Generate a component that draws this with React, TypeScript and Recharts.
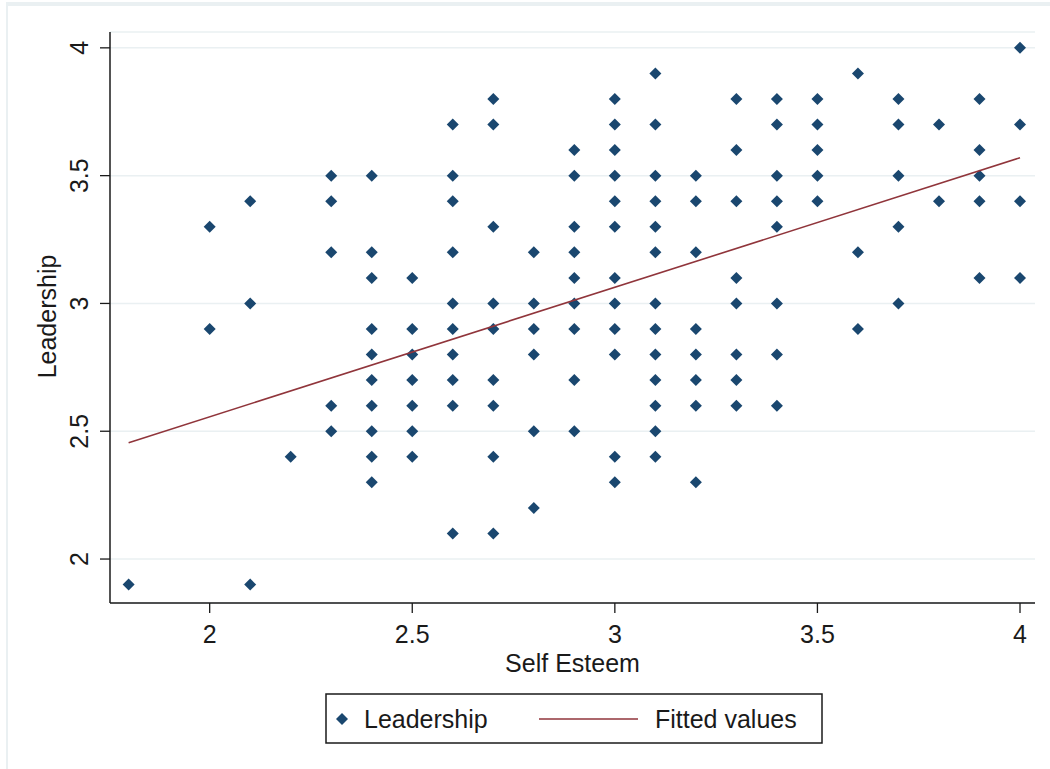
import React from 'react';
import { ScatterChart, Scatter, XAxis, YAxis, CartesianGrid, Legend } from 'recharts';

// Self Esteem levels (x) and the Leadership scores observed at each level (y)
const selfEsteemLevels = [1.8, 2.0, 2.1, 2.2, 2.3, 2.4, 2.5, 2.6, 2.7, 2.8, 2.9, 3.0, 3.1, 3.2, 3.3, 3.4, 3.5, 3.6, 3.7, 3.8, 3.9, 4.0];
const leadershipByLevel = [
  [1.9],
  [3.3, 2.9],
  [3.4, 3.0, 1.9],
  [2.4],
  [3.5, 3.4, 3.2, 2.6, 2.5],
  [3.5, 3.2, 3.1, 2.9, 2.8, 2.7, 2.6, 2.5, 2.4, 2.3],
  [3.1, 2.9, 2.8, 2.7, 2.6, 2.5, 2.4],
  [3.7, 3.5, 3.4, 3.2, 3.0, 2.9, 2.8, 2.7, 2.6, 2.1],
  [3.8, 3.7, 3.3, 3.0, 2.9, 2.7, 2.6, 2.4, 2.1],
  [3.2, 3.0, 2.9, 2.8, 2.5, 2.2],
  [3.6, 3.5, 3.3, 3.2, 3.1, 3.0, 2.9, 2.7, 2.5],
  [3.8, 3.7, 3.6, 3.5, 3.4, 3.3, 3.1, 3.0, 2.9, 2.8, 2.4, 2.3],
  [3.9, 3.7, 3.5, 3.4, 3.3, 3.2, 3.0, 2.9, 2.8, 2.7, 2.6, 2.5, 2.4],
  [3.5, 3.4, 3.2, 2.9, 2.8, 2.7, 2.6, 2.3],
  [3.8, 3.6, 3.4, 3.1, 3.0, 2.8, 2.7, 2.6],
  [3.8, 3.7, 3.5, 3.4, 3.3, 3.0, 2.8, 2.6],
  [3.8, 3.7, 3.6, 3.5, 3.4],
  [3.9, 3.2, 2.9],
  [3.8, 3.7, 3.5, 3.3, 3.0],
  [3.7, 3.4],
  [3.8, 3.6, 3.5, 3.4, 3.1],
  [4.0, 3.7, 3.4, 3.1],
];

// fitted line end points
const fittedX = [1.8, 4.0];
const fittedY = [2.455, 3.57];

const xTicks = [2, 2.5, 3, 3.5, 4];
const yTicks = [2, 2.5, 3, 3.5, 4];

const NAVY = '#1a476f';
const MAROON = '#90353b';
const GRID = '#eaf0f2';
const INK = '#1a1a1a';
const FONT = '"Liberation Sans", Arial, sans-serif';
const FS = 25;

const points = selfEsteemLevels.flatMap((x, i) => leadershipByLevel[i].map((y) => ({ x, y })));
const fitted = fittedX.map((x, i) => ({ x, y: fittedY[i] }));

const Diamond = (props: any) => {
  const { cx, cy } = props;
  if (cx == null || cy == null) return <g />;
  const r = 6;
  return <polygon points={`${cx},${cy - r} ${cx + r},${cy} ${cx},${cy + r} ${cx - r},${cy}`} fill={NAVY} />;
};

const YTick = (props: any) => {
  const { x, y, payload } = props;
  const tx = x - 12;
  return (
    <text x={tx} y={y} transform={`rotate(-90, ${tx}, ${y})`} textAnchor="middle" fill={INK} fontSize={FS} fontFamily={FONT}>
      {payload.value}
    </text>
  );
};

const yTitle = (props: any) => {
  const vb = props.viewBox || { x: 0, y: 32, width: 110, height: 571 };
  const cx = vb.x + 56;
  const cy = vb.y + vb.height / 2 - 1;
  return (
    <text x={cx} y={cy} transform={`rotate(-90, ${cx}, ${cy})`} textAnchor="middle" fill={INK} fontSize={FS} fontFamily={FONT}>
      Leadership
    </text>
  );
};

const xTitle = (props: any) => {
  const vb = props.viewBox || { x: 110, y: 603, width: 925, height: 80 };
  return (
    <text x={vb.x + vb.width / 2} y={vb.y + 69} textAnchor="middle" fill={INK} fontSize={FS} fontFamily={FONT}>
      Self Esteem
    </text>
  );
};

const LegendBox = () => (
  <svg width={498} height={51} style={{ display: 'block' }}>
    <rect x={1} y={1} width={496} height={49} fill="#fff" stroke={INK} strokeWidth={1.5} />
    <Diamond cx={17} cy={26} />
    <text x={39} y={35} fill={INK} fontSize={FS} fontFamily={FONT}>Leadership</text>
    <line x1={214} x2={313} y1={26} y2={26} stroke={MAROON} strokeWidth={1.6} />
    <text x={330} y={35} fill={INK} fontSize={FS} fontFamily={FONT}>Fitted values</text>
  </svg>
);

export default function App() {
  return (
    <div style={{ position: 'absolute', left: 0, top: 0, width: 1050, height: 769, background: '#fff', overflow: 'hidden' }}>
      <div style={{ position: 'absolute', left: 6, top: 2, width: 1050, height: 4, background: GRID }} />
      <div style={{ position: 'absolute', left: 6, top: 2, width: 2, height: 769, background: GRID }} />
      <ScatterChart width={1050} height={769} margin={{ top: 32, right: 15, bottom: 86, left: 0 }}>
        <CartesianGrid vertical={false} stroke={GRID} strokeWidth={1.5} />
        <XAxis
          type="number"
          dataKey="x"
          domain={[1.754, 4.037]}
          ticks={xTicks}
          allowDataOverflow
          height={80}
          tickSize={10}
          tickMargin={12}
          axisLine={{ stroke: INK, strokeWidth: 1.5 }}
          tickLine={{ stroke: INK, strokeWidth: 1.3 }}
          tick={{ fill: INK, fontSize: FS, fontFamily: FONT }}
          label={xTitle}
        />
        <YAxis
          type="number"
          dataKey="y"
          domain={[1.828, 4.062]}
          ticks={yTicks}
          allowDataOverflow
          width={110}
          tickSize={10}
          tickMargin={0}
          axisLine={{ stroke: INK, strokeWidth: 1.5 }}
          tickLine={{ stroke: INK, strokeWidth: 1.3 }}
          tick={<YTick />}
          label={yTitle}
        />
        <Scatter name="Leadership" data={points} shape={<Diamond />} isAnimationActive={false} />
        <Scatter
          name="Fitted values"
          data={fitted}
          line={{ stroke: MAROON, strokeWidth: 1.6 }}
          lineType="joint"
          shape={() => <g />}
          isAnimationActive={false}
        />
        <Legend
          layout="vertical"
          align="center"
          verticalAlign="middle"
          content={() => <LegendBox />}
          wrapperStyle={{ position: 'absolute', left: 325, top: 693, width: 498, height: 51 }}
        />
      </ScatterChart>
    </div>
  );
}
